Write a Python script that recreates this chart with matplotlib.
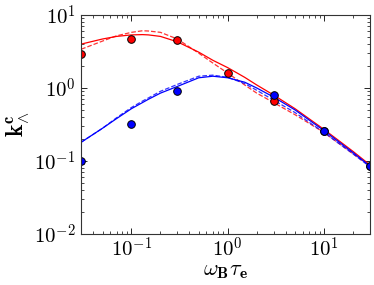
import numpy as np
import matplotlib
matplotlib.use("Agg")
import matplotlib.pyplot as plt

plt.rcParams['mathtext.fontset'] = 'cm'
plt.rcParams['font.family'] = 'serif'
plt.rcParams['font.serif'] = ['DejaVu Serif']

# measured points
x_pts = [0.03, 0.1, 0.3, 1, 3, 10, 30]
red_pts = [2.9, 4.65, 4.55, 1.63, 0.665, 0.255, 0.085]
blue_pts = [0.1, 0.32, 0.92, None, 0.80, 0.255, 0.085]

# curves
x_curve = [0.03, 0.05, 0.07, 0.1, 0.13, 0.15, 0.2, 0.3, 0.5, 0.7, 1, 1.5, 2, 3, 5, 10, 20, 30]
red_solid = [4.0, 4.7, 5.1, 5.35, 5.4, 5.35, 5.1, 4.3, 3.1, 2.4, 1.9, 1.4, 1.1, 0.80, 0.52, 0.27, 0.135, 0.088]
red_dash = [3.4, 4.4, 5.2, 5.8, 6.1, 6.05, 5.8, 4.7, 3.0, 2.2, 1.6, 1.1, 0.85, 0.63, 0.43, 0.245, 0.125, 0.085]
blue_solid = [0.18, 0.28, 0.38, 0.52, 0.63, 0.70, 0.85, 1.05, 1.38, 1.45, 1.38, 1.2, 1.0, 0.75, 0.5, 0.26, 0.13, 0.085]
blue_dash = [0.18, 0.28, 0.39, 0.54, 0.66, 0.73, 0.9, 1.12, 1.45, 1.5, 1.4, 1.15, 0.93, 0.68, 0.46, 0.245, 0.125, 0.083]

fig = plt.figure(figsize=(3.74, 2.85), dpi=100)
ax = fig.add_axes([0.217, 0.18, 0.772, 0.767])

ax.plot(x_curve, red_solid, '-', color='red', lw=0.9)
ax.plot(x_curve, red_dash, '--', color='red', lw=0.9, alpha=0.8)
ax.plot(x_curve, blue_solid, '-', color='blue', lw=0.9)
ax.plot(x_curve, blue_dash, '--', color='blue', lw=0.9, alpha=0.8)

xr = [x for x, y in zip(x_pts, red_pts) if y is not None]
yr = [y for y in red_pts if y is not None]
xb = [x for x, y in zip(x_pts, blue_pts) if y is not None]
yb = [y for y in blue_pts if y is not None]
ax.plot(xr, yr, 'o', color='red', mec='black', mew=0.7, ms=5.5)
ax.plot(xb, yb, 'o', color='blue', mec='black', mew=0.7, ms=5.5)

ax.set_xscale('log')
ax.set_yscale('log')
ax.set_xlim(0.03, 30)
ax.set_ylim(1e-2, 10)
ax.set_xticks([0.1, 1, 10])
ax.set_xticklabels([r'$10^{-1}$', r'$10^{0}$', r'$10^{1}$'])
ax.set_yticks([1e-2, 1e-1, 1, 10])
ax.set_yticklabels([r'$10^{-2}$', r'$10^{-1}$', r'$10^{0}$', r'$10^{1}$'])
ax.tick_params(which='both', direction='in', top=True, right=True, labelsize=15, pad=4)
ax.tick_params(axis='x', pad=2)
ax.tick_params(which='major', length=4, width=0.6)
ax.tick_params(which='minor', length=2, width=0.5)
for s in ax.spines.values():
    s.set_linewidth(0.8)
    s.set_color('#333333')

ax.set_xlabel(r'$\omega_{\mathbf{B}}\tau_{\mathbf{e}}$', fontsize=16, labelpad=-1)
ax.set_ylabel(r'$\mathbf{k}^{\mathbf{c}}_{\wedge}$', fontsize=17, labelpad=2)

fig.savefig('out.png', dpi=100)
